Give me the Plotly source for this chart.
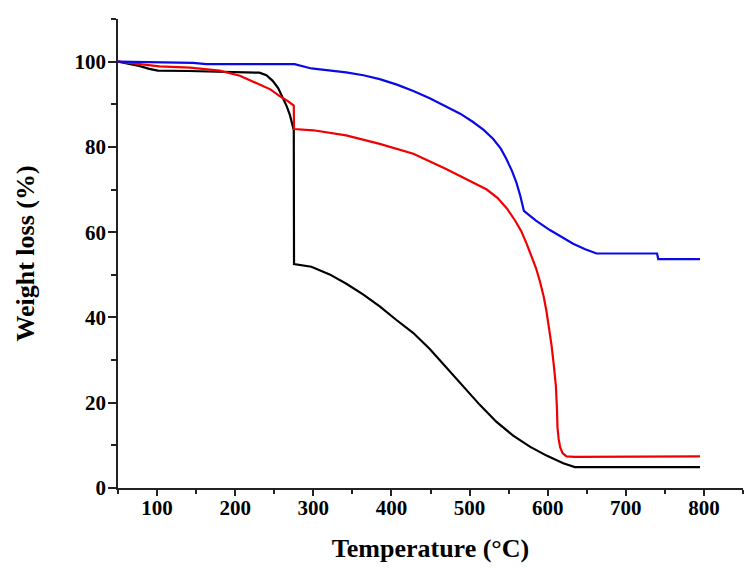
import plotly.graph_objects as go

# Temperature (°C) and weight (%)
black_t = [50, 65, 77, 90, 101, 140, 180, 231, 240, 248, 255, 261, 266, 270, 273, 275,
           275.3, 297.5, 320.9, 342.3, 363.6, 385.0, 406.4, 427.7, 449.1, 470.4, 491.8,
           513.1, 534.5, 555.8, 577.2, 598.5, 619.9, 634.8, 795]
black_w = [100, 99.5, 99.0, 98.3, 97.9, 97.8, 97.7, 97.4, 96.8, 95.5, 93.8, 91.5, 89.5, 87.5, 85.5, 83.9,
           52.5, 51.9, 50.1, 47.9, 45.4, 42.6, 39.4, 36.4, 32.6, 28.2, 23.9,
           19.5, 15.5, 12.3, 9.7, 7.6, 5.8, 4.9, 4.9]

red_t = [50, 75, 103, 142, 180, 206, 231, 245, 257, 267, 275, 275.3,
         300, 342, 385, 428, 470, 504, 522, 536, 548, 558, 566, 573, 579, 585, 590, 595,
         598.5, 602, 605, 608, 610.5, 612, 612.5, 614, 616, 619, 624, 635, 795]
red_w = [100, 99.5, 98.9, 98.6, 97.9, 96.7, 94.7, 93.5, 91.9, 90.8, 89.7, 84.2,
         83.9, 82.7, 80.7, 78.4, 74.8, 71.6, 70.0, 68.0, 65.5, 62.8, 60.3, 57.3, 54.6, 51.6, 48.5, 44.8,
         41.4, 37.5, 33.4, 28.5, 23.9, 18.0, 14.3, 11.5, 9.5, 8.2, 7.4, 7.3, 7.4]

blue_t = [50, 146, 163, 276, 297.5, 325, 342, 364, 385, 407, 428, 449, 470, 488, 504, 518,
          530, 540, 547, 554, 560, 565, 569.5, 585, 602.8, 618, 632.6, 648, 662.6, 740, 741.5, 795]
blue_w = [100, 99.7, 99.4, 99.4, 98.4, 97.9, 97.5, 96.8, 95.9, 94.6, 93.1, 91.4, 89.5, 87.8, 85.9, 84.0,
          81.9, 79.6, 77.2, 74.5, 71.6, 68.5, 65.0, 62.7, 60.5, 58.8, 57.3, 56.0, 55.0, 55.0, 53.7, 53.7]

x_ticks = [100, 200, 300, 400, 500, 600, 700, 800]
y_ticks = [0, 20, 40, 60, 80, 100]
x_minor = [50, 150, 250, 350, 450, 550, 650, 750, 850]
y_minor = [10, 30, 50, 70, 90, 110]

FONT = "Liberation Serif"

fig = go.Figure()
fig.add_trace(go.Scatter(x=black_t, y=black_w, mode="lines",
                         line=dict(color="#000000", width=2.2), showlegend=False))
fig.add_trace(go.Scatter(x=red_t, y=red_w, mode="lines",
                         line=dict(color="#f00000", width=2.2), showlegend=False))
fig.add_trace(go.Scatter(x=blue_t, y=blue_w, mode="lines",
                         line=dict(color="#0a0ae6", width=2.2), showlegend=False))

axis_common = dict(showline=True, linecolor="#222222", linewidth=1.6,
                   ticks="outside", tickcolor="#222222", tickwidth=1.6,
                   showgrid=False, zeroline=False, mirror=False,
                   tickfont=dict(family=FONT, size=21, color="#000000", weight="bold"))

fig.update_xaxes(range=[50, 850], tickvals=x_ticks, ticktext=[str(v) for v in x_ticks],
                 ticklen=6, ticklabelstandoff=-6,
                 minor=dict(ticks="outside", ticklen=4, tickwidth=1.6, tickcolor="#222222",
                            tickvals=x_minor),
                 title=dict(text="Temperature (°C)", standoff=20,
                            font=dict(family=FONT, size=26, color="#000000", weight="bold")),
                 **axis_common)
fig.update_yaxes(range=[0, 110], tickvals=y_ticks, ticktext=[str(v) for v in y_ticks],
                 ticklen=8, ticklabelstandoff=-2,
                 minor=dict(ticks="outside", ticklen=5, tickwidth=1.6, tickcolor="#222222",
                            tickvals=y_minor),
                 title=dict(text="Weight loss (%)", standoff=32,
                            font=dict(family=FONT, size=26, color="#000000", weight="bold")),
                 **axis_common)

fig.update_layout(width=747, height=566,
                  margin=dict(l=110, r=12, t=11, b=86, autoexpand=False),
                  paper_bgcolor="white", plot_bgcolor="white")

fig.write_html("out.html")
